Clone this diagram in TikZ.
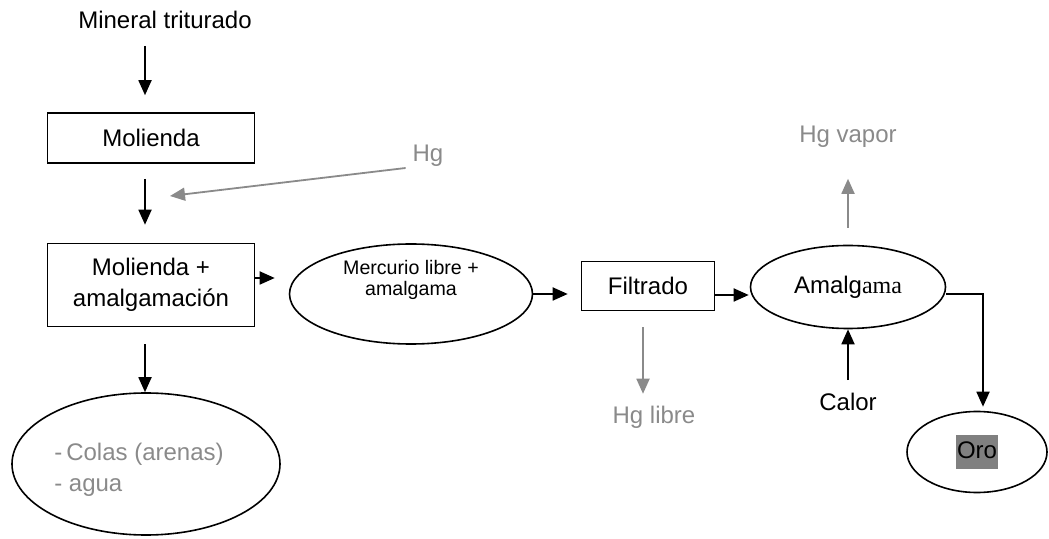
\documentclass[tikz,border=0pt]{standalone}
\usepackage{fontspec}
\setmainfont{Liberation Sans}
\newfontfamily\timesfont{Liberation Serif}
\usetikzlibrary{shapes.geometric, arrows.meta}
\definecolor{hggrey}{RGB}{138,138,138}
\definecolor{orogrey}{RGB}{128,128,128}

\begin{document}
\begin{tikzpicture}[x=0.5pt,y=-0.5pt,font=\fontsize{12}{15.5}\selectfont]
		\tikzstyle{box} = [rectangle,draw=black,line width=0.8pt,align=center]
		\tikzstyle{oval} = [ellipse,draw=black,line width=0.8pt,inner sep=0pt,align=center]
		\tikzstyle{edge} = [-{Triangle[length=7.5pt,width=6.5pt]},line width=0.9pt]
		\tikzstyle{greyedge} = [edge,draw=hggrey]
		\tikzstyle{greytext} = [text=hggrey]
		\useasboundingbox (0,0) rectangle (1049,539);
		\node[] (n1) at (165,20) {Mineral triturado};
		\node[box,minimum width=103.5pt,minimum height=25pt] (n2) at (151,138) {Molienda};
		\node[greytext] (n3) at (428,156) {Hg};
		\node[box,minimum width=103.5pt,minimum height=41.5pt] (n4) at (151,285) {Molienda +\\amalgamación};
		\node[oval,minimum width=121.5pt,minimum height=50pt,font=\fontsize{9.8}{10.3}\selectfont,text depth=16pt] (n5) at (411,294) {Mercurio libre +\\amalgama};
		\node[box,minimum width=66.5pt,minimum height=24.5pt] (n6) at (648,286) {Filtrado};
		\node[greytext] (n7) at (654,417) {Hg libre};
		\node[oval,minimum width=97.5pt,minimum height=41.5pt] (n8) at (848,287) {Amalg{\timesfont ama}};
		\node[greytext] (n9) at (848,137) {Hg vapor};
		\node[] (n10) at (848,402) {Calor};
		\node[oval,minimum width=70pt,minimum height=40.5pt] (n11) at (977,452) {{\fboxsep=0.6pt\colorbox{orogrey}{Oro\strut}}};
		\node[oval,minimum width=134pt,minimum height=71pt,align=left,text=hggrey] (n12) at (146,464) {\rule{0pt}{14pt}-\,Colas (arenas)\hspace*{7pt}\\- agua};
		\coordinate (c1) at (170,196);
		% main line
		\draw[edge,shorten <=5pt,shorten >=8.5pt] ([xshift=-3pt]n2.north |- n1.south) -- ([xshift=-3pt]n2.north);
		\draw[edge,shorten <=7.5pt,shorten >=9pt] ([xshift=-3pt]n2.south) -- ([xshift=-3pt]n4.north);
		\draw[edge,shorten <=8.5pt] ([xshift=-3pt]n4.south) -- ([xshift=-3pt]n4.south |- n12.north);
		\draw[edge,shorten >=7pt] ([yshift=3.5pt]n4.east) -- ([yshift=3.5pt]n4.east -| n5.west);
		\draw[edge,shorten >=6.5pt] (n5.east) -- (n5.east -| n6.west);
		\draw[edge,shorten >=0.5pt] ([yshift=-4.5pt]n6.east) -- ([yshift=-4.5pt]n6.east -| n8.west);
		\draw[edge,shorten <=3pt] (n10) -- (n8);
		\draw[edge,shorten >=2pt] ([yshift=-3.5pt]n8.east) -| ([xshift=3pt]n11.north);
		% mercury
		\draw[greyedge] ([yshift=-6pt]n3.west) -- (c1);
		\draw[greyedge,shorten <=8pt,shorten >=2.5pt] ([xshift=-2.5pt]n6.south) -- ([xshift=-2.5pt]n6.south |- n7.north);
		\draw[greyedge,shorten <=8.5pt,shorten >=12pt] (n8.north) -- (n9.south);
\end{tikzpicture}
\end{document}
